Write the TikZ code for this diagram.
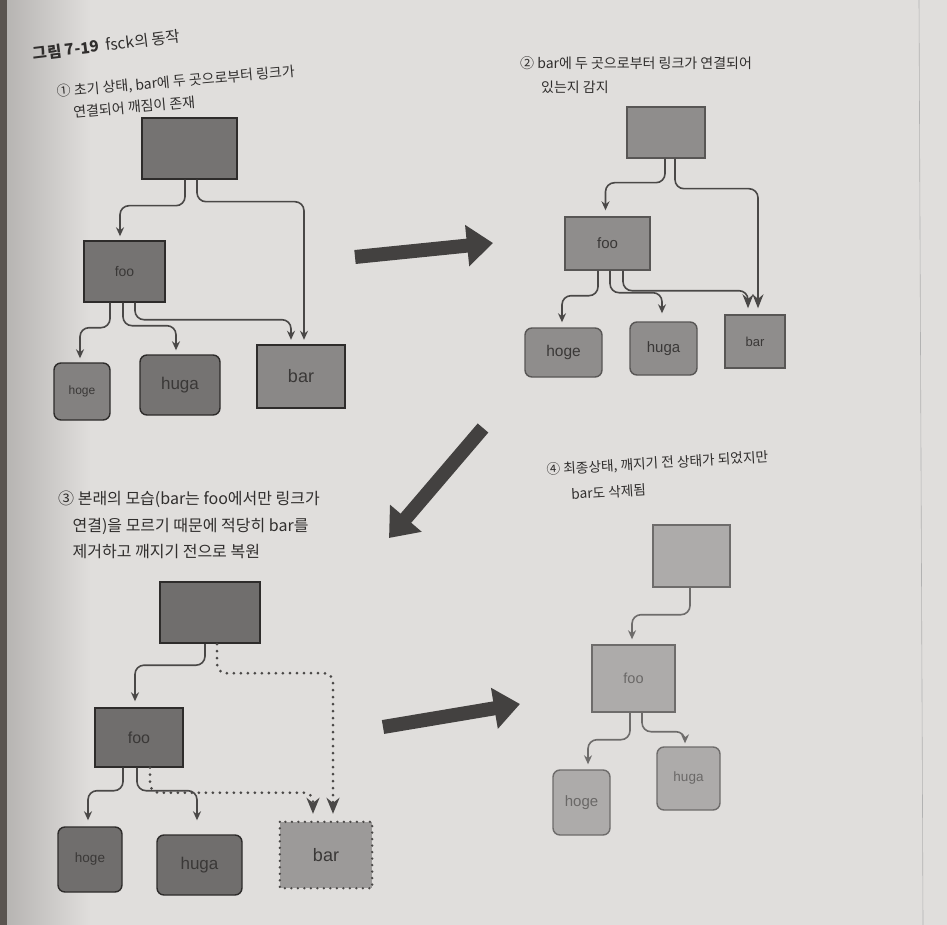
\documentclass[tikz,border=0pt]{standalone}
\usepackage{fontspec}
\setmainfont{Noto Sans CJK KR}
\newfontfamily\lab{Liberation Sans}
\usetikzlibrary{arrows.meta,calc}
\definecolor{page}{HTML}{E0DEDC}
\definecolor{pageshadow}{HTML}{B3B1AF}
\definecolor{edge}{HTML}{5A5550}
\definecolor{capc}{HTML}{302E2D}
\definecolor{lnc}{HTML}{4A4847}
\definecolor{bigc}{HTML}{434140}
\definecolor{fillA}{HTML}{757372}
\definecolor{fillB}{HTML}{8F8D8C}
\definecolor{fillC}{HTML}{706E6D}
\definecolor{fillD}{HTML}{ADABAA}
\definecolor{fillE}{HTML}{9C9A99}
\definecolor{bdA}{HTML}{2E2C2B}
\definecolor{bdD}{HTML}{6E6C6B}
\definecolor{txA}{HTML}{3A3837}
\definecolor{txD}{HTML}{6A6867}
\tikzset{
  captext/.style={anchor=north west, align=left, inner sep=0pt, text=capc},
  boxA/.style={draw=bdA, line width=1.4pt, fill=fillA, inner sep=0pt, text=txA, font=\lab},
  boxB/.style={boxA, fill=fillB, draw=bdA!80},
  boxC/.style={boxA, fill=fillC},
  boxD/.style={boxA, fill=fillD, draw=bdD, text=txD},
  rnd/.style={rounded corners=7pt},
  conn/.style={draw=lnc, line width=1.6pt, rounded corners=9pt,
    -{Stealth[length=9pt,width=8pt]}},
  bigtip/.style={-{Stealth[length=14pt,width=11pt]}},
  connD/.style={conn, draw=bdD},
  dotconn/.style={draw=lnc, line width=3pt, line cap=round,
    dash pattern=on 0pt off 7pt, rounded corners=9pt,
    -{Stealth[length=16pt,width=13pt]}},
  bigarrow/.style={draw=bigc, line width=14pt,
    -{Triangle[width=40pt,length=26pt]}}
}
\begin{document}
\begin{tikzpicture}[x=1pt,y=-1pt]
\useasboundingbox (0,0) rectangle (947,925);
% page
\fill[page] (0,0) rectangle (947,925);
\shade[left color=pageshadow, right color=page] (0,0) rectangle (90,925);
\fill[edge] (0,0) rectangle (7,925);
\draw[gray!60, line width=0.6pt] (919,0) -- (923,925);

% ---------- captions ----------
\node[captext, rotate=7, anchor=west, font={\fontsize{15.5}{18}\selectfont}] (title) at (33,54)
  {\textbf{그림 7-19}\hspace{7pt}fsck의 동작};
\node[captext, rotate=5, font={\fontsize{14}{22}\selectfont}] (cap1) at (56,85)
  {① 초기 상태, bar에 두 곳으로부터 링크가\\
   \hspace*{1.05em}연결되어 깨짐이 존재};
\node[captext, font={\fontsize{14}{24}\selectfont}] (cap2) at (520,56)
  {② bar에 두 곳으로부터 링크가 연결되어\\
   \hspace*{1.5em}있는지 감지};
\node[captext, font={\fontsize{16}{26.5}\selectfont}] (cap3) at (58,491)
  {③ 본래의 모습(bar는 foo에서만 링크가\\
   \hspace*{0.9em}연결)을 모르기 때문에 적당히 bar를\\
   \hspace*{0.9em}제거하고 깨지기 전으로 복원};
\node[captext, rotate=3.4, font={\fontsize{13.7}{26}\selectfont}] (cap4) at (546,463)
  {④ 최종상태, 깨지기 전 상태가 되었지만\\
   \hspace*{1.7em}bar도 삭제됨};

% ---------- panel 1 ----------
\node[boxA, minimum width=95pt, minimum height=61pt] (t1) at (189.5,148.5) {};
\node[boxA, minimum width=81pt, minimum height=61pt, font=\lab\fontsize{14}{16}\selectfont] (f1) at (124.5,271.5) {foo};
\node[boxA, rnd, minimum width=56pt, minimum height=57pt, fill=fillA!90!white, font=\lab\fontsize{12}{14}\selectfont] (h1) at (82,391.5) {hoge};
\node[boxA, rnd, minimum width=80pt, minimum height=60pt, font=\lab\fontsize{17}{19}\selectfont] (g1) at (180,385) {huga};
\node[boxA, line width=2.4pt, fill=fillA!85!white, minimum width=88pt, minimum height=63pt, font=\lab\fontsize{18}{20}\selectfont] (b1) at (301,376.5) {bar};
\draw[conn] ([xshift=-4.5pt]t1.south) -- ++(0,26) -| ([xshift=-4.5pt,yshift=4pt]f1.north);
\draw[conn] ([xshift=7.5pt]t1.south) -- ++(0,22) -| ([xshift=3pt,yshift=4pt]b1.north);
\draw[conn] ([xshift=-14.5pt]f1.south) -- ++(0,25) -| ([xshift=-2pt,yshift=4pt]h1.north);
\draw[conn] ([xshift=-1.5pt]f1.south) -- ++(0,23) -| ([xshift=-4pt,yshift=4pt]g1.north);
\draw[conn] ([xshift=10.5pt]f1.south) -- ++(0,17) -| ([xshift=-10pt,yshift=4pt]b1.north);

% ---------- panel 2 ----------
\node[boxB, minimum width=78pt, minimum height=51pt] (t2) at (666,132.5) {};
\node[boxB, minimum width=85pt, minimum height=53pt, font=\lab\fontsize{15}{17}\selectfont] (f2) at (607.5,243.5) {foo};
\node[boxB, rnd, minimum width=77pt, minimum height=49pt, font=\lab\fontsize{15.5}{17}\selectfont] (h2) at (563.5,352.5) {hoge};
\node[boxB, rnd, minimum width=67pt, minimum height=53pt, font=\lab\fontsize{15}{17}\selectfont] (g2) at (663.5,348.5) {huga};
\node[boxB, minimum width=60pt, minimum height=53pt, font=\lab\fontsize{13}{15}\selectfont] (b2) at (755,341.5) {bar};
\draw[conn] ([xshift=-1pt]t2.south) -- ++(0,24) -| ([xshift=-2pt,yshift=6pt]f2.north);
\draw[conn, bigtip] ([xshift=9pt]t2.south) -- ++(0,30) -| ([xshift=3pt,yshift=6pt]b2.north);
\draw[conn] ([xshift=-9.5pt]f2.south) -- ++(0,25) -| ([xshift=-1.5pt,yshift=5pt]h2.north);
\draw[conn] ([xshift=2.5pt]f2.south) -- ++(0,22) -| ([xshift=-1.5pt,yshift=8pt]g2.north);
\draw[conn, bigtip] ([xshift=15.5pt]f2.south) -- ++(0,20) -| ([xshift=-7pt,yshift=6pt]b2.north);

% ---------- panel 3 ----------
\node[boxC, line width=2.4pt, minimum width=100pt, minimum height=61pt] (t3) at (210,612.5) {};
\node[boxC, minimum width=88pt, minimum height=59pt, font=\lab\fontsize{16}{18}\selectfont] (f3) at (139,737.5) {foo};
\node[boxC, rnd, minimum width=64pt, minimum height=65pt, font=\lab\fontsize{13.5}{15}\selectfont] (h3) at (90,859.5) {hoge};
\node[boxC, rnd, minimum width=85pt, minimum height=60pt, font=\lab\fontsize{17}{19}\selectfont] (g3) at (199.5,865) {huga};
\node[fill=fillE, text=txA, inner sep=0pt, minimum width=92pt, minimum height=66pt, font=\lab\fontsize{18}{20}\selectfont] (b3) at (326,855) {bar};
\draw[lnc, line width=2.6pt, line cap=round, dash pattern=on 0pt off 6.5pt]
  (b3.north west) rectangle (b3.south east);
\draw[conn] ([xshift=-5pt]t3.south) -- ++(0,21) -| ([xshift=-4pt,yshift=6pt]f3.north);
\draw[dotconn] ([xshift=7pt]t3.south) -- ++(0,29) -| ([xshift=7pt,yshift=8pt]b3.north);
\draw[conn] ([xshift=-16pt]f3.south) -- ++(0,23) -| ([xshift=-2pt,yshift=6pt]h3.north);
\draw[conn] ([xshift=-2pt]f3.south) -- ++(0,23) -| ([xshift=-2.5pt,yshift=14pt]g3.north);
\draw[dotconn] ([xshift=11pt]f3.south) -- ++(0,25) -| ([xshift=-13pt,yshift=8pt]b3.north);

% ---------- panel 4 ----------
\node[boxD, minimum width=77pt, minimum height=62pt] (t4) at (691.5,556) {};
\node[boxD, minimum width=83pt, minimum height=67pt, font=\lab\fontsize{14.5}{16}\selectfont] (f4) at (633.5,678.5) {foo};
\node[boxD, rnd, minimum width=57pt, minimum height=65pt, font=\lab\fontsize{15}{17}\selectfont] (h4) at (581.5,802.5) {hoge};
\node[boxD, rnd, minimum width=63pt, minimum height=63pt, font=\lab\fontsize{13.5}{15}\selectfont] (g4) at (688.5,778.5) {huga};
\draw[connD] ([xshift=-1.5pt]t4.south) -- ++(0,27) -| ([xshift=-1.5pt,yshift=5pt]f4.north);
\draw[connD] ([xshift=-3.5pt]f4.south) -- ++(0,27) -| ([xshift=6.5pt,yshift=5pt]h4.north);
\draw[connD] ([xshift=8.5pt]f4.south) -- ++(0,19) -| ([xshift=-3.5pt,yshift=3pt]g4.north);

% ---------- big arrows between panels ----------
\coordinate (a1s) at (355,257); \coordinate (a1e) at (493,243);
\coordinate (a2s) at (483,428); \coordinate (a2e) at (389,538);
\coordinate (a3s) at (383,727); \coordinate (a3e) at (520,704);
\draw[bigarrow] (a1s) -- (a1e);
\draw[bigarrow] (a2s) -- (a2e);
\draw[bigarrow] (a3s) -- (a3e);
\end{tikzpicture}
\end{document}
